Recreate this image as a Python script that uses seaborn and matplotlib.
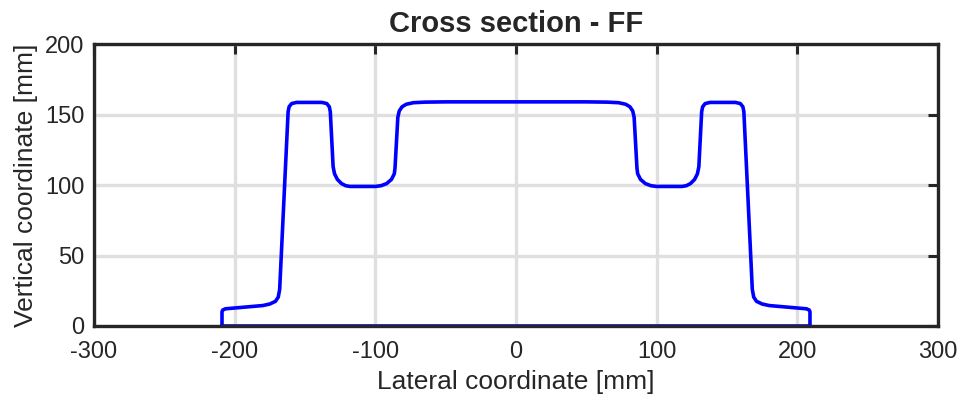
import pandas as pd
import matplotlib
matplotlib.use("Agg")
import matplotlib.pyplot as plt
import seaborn as sns

# Cross section profile - FF (left to right around the outline)
x_mm = [-209, -209, -208.5, -206.5, -180, -175, -171, -169, -168,
        -162, -161.3, -159.5, -156, -138, -134.5, -132.7, -132,
        -130, -129, -127, -124, -121, -118, -100, -96, -92, -88.5, -86.5, -86,
        -84, -83, -81, -78, -73, -65, -50, 0,
        50, 65, 73, 78, 81, 83, 84,
        86, 86.5, 88.5, 92, 96, 100, 118, 121, 124, 127, 129, 130,
        132, 132.7, 134.5, 138, 156, 159.5, 161.3, 162,
        168, 169, 171, 175, 180, 206.5, 208.5, 209, 209, -209]
y_mm = [0, 10, 11.3, 12.2, 14.5, 15.6, 17.5, 20.5, 26,
        152, 155.5, 157.8, 158.6, 158.6, 157.8, 155.5, 152,
        113, 108, 104, 101, 99.5, 99, 99, 99.5, 101, 104, 108, 112,
        148, 152.5, 155.5, 157.3, 158.4, 158.8, 159, 159,
        159, 158.8, 158.4, 157.3, 155.5, 152.5, 148,
        112, 108, 104, 101, 99.5, 99, 99, 99.5, 101, 104, 108, 113,
        152, 155.5, 157.8, 158.6, 158.6, 157.8, 155.5, 152,
        26, 20.5, 17.5, 15.6, 14.5, 12.2, 11.3, 10, 0, 0]

x_ticks = [-300, -200, -100, 0, 100, 200, 300]
y_ticks = [0, 50, 100, 150, 200]

df = pd.DataFrame({"x": x_mm, "y": y_mm})

sns.set_style("white")
plt.rcParams["font.family"] = ["Liberation Sans", "DejaVu Sans"]
plt.rcParams["axes.unicode_minus"] = False

fig = plt.figure(figsize=(9.65, 4.08), dpi=100)
ax = fig.add_axes([0.0974, 0.201, 0.8746, 0.691])

sns.lineplot(data=df, x="x", y="y", sort=False, estimator=None,
             color="#0000ff", linewidth=2.6, ax=ax, zorder=3)

ax.set_xlim(-300, 300)
ax.set_ylim(0, 200)
ax.set_xticks(x_ticks)
ax.set_yticks(y_ticks)
ax.grid(True, color="#dfdfdf", linewidth=2.4, zorder=0)
ax.set_axisbelow(True)
ax.tick_params(direction="in", length=7, width=2.2, color="#262626",
               top=True, right=True, labelsize=17, labelcolor="#262626")
ax.tick_params(axis="x", pad=11)
ax.tick_params(axis="y", pad=7)
for s in ax.spines.values():
    s.set_linewidth(2.4)
    s.set_color("#262626")
    s.set_zorder(4)

ax.set_title("Cross section - FF", fontsize=21, fontweight="bold", pad=9)
ax.set_xlabel("Lateral coordinate [mm]", fontsize=19, color="#262626", labelpad=5)
ax.set_ylabel("Vertical coordinate [mm]", fontsize=19, color="#262626", labelpad=5)

fig.savefig("out.png", dpi=100)
